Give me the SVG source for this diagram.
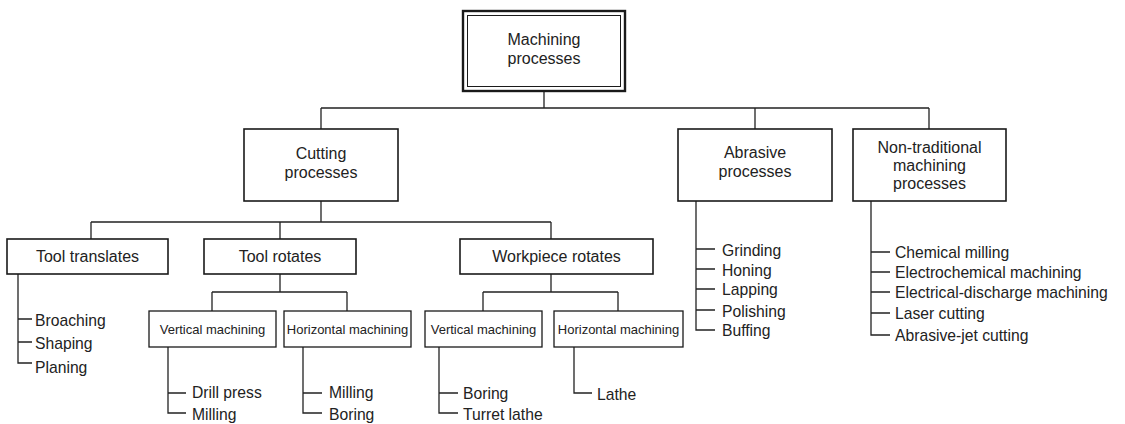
<svg xmlns="http://www.w3.org/2000/svg" width="1125" height="424" viewBox="0 0 1125 424">
<style>
.box{fill:#fff;stroke:#1a1a1a;stroke-width:1.6}
.sbox{fill:#fff;stroke:#1a1a1a;stroke-width:1.3}
.outer{fill:#fff;stroke:#1a1a1a;stroke-width:2.4}
.inner{fill:none;stroke:#1a1a1a;stroke-width:1}
.ln{fill:none;stroke:#222;stroke-width:1.3}
text{font-family:"Liberation Sans",Arial,sans-serif;fill:#222}
.t{font-size:16px;text-anchor:middle}
.s{font-size:13px;text-anchor:middle}
.l{font-size:15.7px}
</style>
<rect width="1125" height="424" fill="#fff"/>
<g id="connectors">
<path class="ln" d="M544 91V108M321 108H929M321 108V129M755 108V129M929 108V129"/>
<path class="ln" d="M321 201V222M91 222H551M91 222V239M280 222V239M551 222V239"/>
<path class="ln" d="M280 274V292M212 292H347M212 292V311M347 292V311"/>
<path class="ln" d="M551 274V292M483 292H618M483 292V311M618 292V311"/>
<path class="ln" d="M18 274V363H32M18 319H32M18 342H32"/>
<path class="ln" d="M168 347V413H186M168 393H186"/>
<path class="ln" d="M303 347V413H322M303 393H322"/>
<path class="ln" d="M439 347V413H458M439 393H458"/>
<path class="ln" d="M574 347V393H592"/>
<path class="ln" d="M696 201V330H715M696 249H715M696 269H715M696 289H715M696 310H715"/>
<path class="ln" d="M871 201V335H890M871 252H890M871 272H890M871 292H890M871 313H890"/>
</g>
<g id="machining">
<rect class="outer" x="463" y="11" width="162" height="80"/>
<rect class="inner" x="467.5" y="15.5" width="153" height="71"/>
<text class="t" x="544" y="45">Machining</text>
<text class="t" x="544" y="64">processes</text>
</g>
<g id="cutting">
<rect class="box" x="244" y="129" width="154" height="72"/>
<text class="t" x="321" y="159">Cutting</text>
<text class="t" x="321" y="178">processes</text>
</g>
<g id="abrasive">
<rect class="box" x="678" y="129" width="154" height="72"/>
<text class="t" x="755" y="158">Abrasive</text>
<text class="t" x="755" y="177">processes</text>
</g>
<g id="nontraditional">
<rect class="box" x="853" y="129" width="153" height="72"/>
<text class="t" x="929.5" y="153">Non-traditional</text>
<text class="t" x="929.5" y="171">machining</text>
<text class="t" x="929.5" y="189">processes</text>
</g>
<g id="tooltranslates">
<rect class="box" x="7" y="239" width="161" height="35"/>
<text class="t" x="87.5" y="262">Tool translates</text>
</g>
<g id="toolrotates">
<rect class="box" x="204" y="239" width="152" height="35"/>
<text class="t" x="280" y="262">Tool rotates</text>
</g>
<g id="workpiecerotates">
<rect class="box" x="460" y="239" width="193" height="35"/>
<text class="t" x="556.5" y="262">Workpiece rotates</text>
</g>
<g id="tr-vertical">
<rect class="sbox" x="149" y="311" width="127" height="36"/>
<text class="s" x="212.5" y="333.5">Vertical machining</text>
</g>
<g id="tr-horizontal">
<rect class="sbox" x="284" y="311" width="127" height="36"/>
<text class="s" x="347.5" y="333.5">Horizontal machining</text>
</g>
<g id="wr-vertical">
<rect class="sbox" x="425" y="311" width="117" height="36"/>
<text class="s" x="483.5" y="333.5">Vertical machining</text>
</g>
<g id="wr-horizontal">
<rect class="sbox" x="554" y="311" width="129" height="36"/>
<text class="s" x="618.5" y="333.5">Horizontal machining</text>
</g>
<g id="leaves-translates">
<text class="l" x="35" y="326">Broaching</text>
<text class="l" x="35" y="349">Shaping</text>
<text class="l" x="35" y="373">Planing</text>
</g>
<g id="leaves-tr-vertical">
<text class="l" x="192" y="398">Drill press</text>
<text class="l" x="192" y="420">Milling</text>
</g>
<g id="leaves-tr-horizontal">
<text class="l" x="329" y="398">Milling</text>
<text class="l" x="329" y="420">Boring</text>
</g>
<g id="leaves-wr-vertical">
<text class="l" x="463" y="399">Boring</text>
<text class="l" x="463" y="420">Turret lathe</text>
</g>
<g id="leaves-wr-horizontal">
<text class="l" x="597" y="400">Lathe</text>
</g>
<g id="leaves-abrasive">
<text class="l" x="722" y="256">Grinding</text>
<text class="l" x="722" y="276">Honing</text>
<text class="l" x="722" y="295">Lapping</text>
<text class="l" x="722" y="317">Polishing</text>
<text class="l" x="722" y="336">Buffing</text>
</g>
<g id="leaves-nontraditional">
<text class="l" x="895" y="258">Chemical milling</text>
<text class="l" x="895" y="278">Electrochemical machining</text>
<text class="l" x="895" y="298">Electrical-discharge machining</text>
<text class="l" x="895" y="319">Laser cutting</text>
<text class="l" x="895" y="341">Abrasive-jet cutting</text>
</g>
</svg>
